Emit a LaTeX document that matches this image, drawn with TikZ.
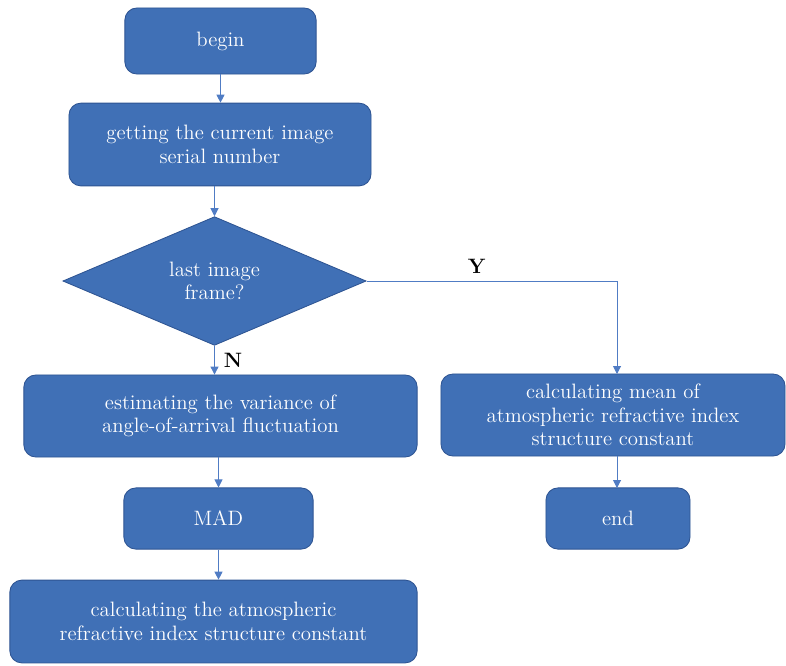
\documentclass[tikz,border=0pt]{standalone}
\usepackage{tikz}
\usetikzlibrary{shapes,arrows.meta,positioning,calc}
\definecolor{boxfill}{RGB}{64,112,182}
\definecolor{boxline}{RGB}{46,84,146}
\definecolor{flow}{RGB}{80,124,196}

\begin{document}
\begin{tikzpicture}[x=0.025cm,y=-0.025cm,
        every node/.style={font=\fontsize{14.8}{16.6}\selectfont},
        block/.style={draw=boxline,fill=boxfill,text=white,rounded corners=0.3cm,align=center,line width=0.6pt},
        decide/.style={diamond,draw=boxline,fill=boxfill,text=white,align=center,inner sep=0pt,line width=0.6pt},
        answer/.style={font=\fontsize{14.8}{16.6}\selectfont\bfseries},
        flowline/.style={draw=flow,line width=0.7pt,-{Triangle[length=0.2cm,width=0.2cm]}}]
    \useasboundingbox (0,0) rectangle (786,665);
    % left column
    \node[block,minimum width=4.78cm,minimum height=1.65cm] (begin) at (220.5,41) {begin};
    \node[block,minimum width=7.55cm,minimum height=2.07cm] (serial) at (220,144.5) {getting the current image\\serial number};
    \node[decide,minimum width=7.58cm,minimum height=2.98cm] (last) at (214.5,281) {last image\\frame?};
    \node[block,minimum width=9.83cm,minimum height=2.05cm] (variance) at (220.5,416) {estimating the variance of\\angle-of-arrival fluctuation};
    \node[block,minimum width=4.73cm,minimum height=1.53cm] (mad) at (218.5,518.5) {MAD};
    \node[block,minimum width=10.18cm,minimum height=2.07cm] (constant) at (213.5,621.5) {calculating the atmospheric\\refractive index structure constant};
    % right column
    \node[block,minimum width=8.6cm,minimum height=2.05cm] (mean) at (613,415) {calculating mean of\\atmospheric refractive index\\structure constant};
    \node[block,minimum width=3.6cm,minimum height=1.53cm] (end) at (618,518.5) {end};
    % connectors
    \draw[flowline] (begin.south) -- (begin.south |- serial.north);
    \draw[flowline] (serial.south -| last.north) -- (last.north);
    \draw[flowline] (last.south) -- (last.south |- variance.north) node[pos=0.5,right=3pt,answer] {N};
    \draw[flowline] (last.east) -| (617,374) node[pos=0.22,above=2pt,answer] {Y};
    \draw[flowline] (variance.south -| mad.north) -- (mad.north);
    \draw[flowline] (mad.south) -- (mad.south |- constant.north);
    \draw[flowline] (617,456) -- (617,488);
\end{tikzpicture}
\end{document}
